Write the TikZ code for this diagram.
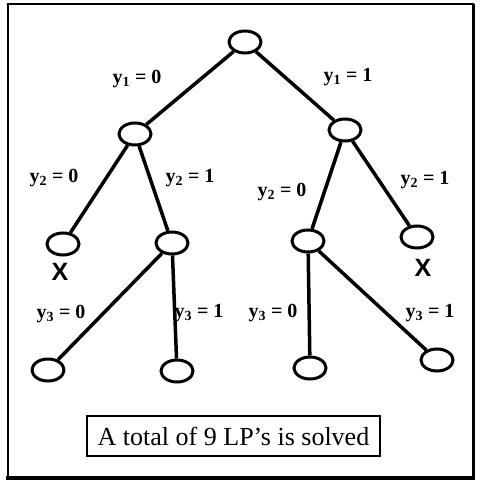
\documentclass[tikz,border=0pt]{standalone}
\usepackage{fontspec}
\setmainfont{Liberation Serif}
\newfontfamily\xfont{Liberation Sans}
\usetikzlibrary{shapes.geometric}
\begin{document}
\begin{tikzpicture}[x=1pt,y=-1pt,
  lp/.style={draw,ellipse,line width=3pt,minimum width=32pt,minimum height=22pt,inner sep=0pt},
  br/.style={line width=3.5pt},
  lab/.style={font=\fontsize{20}{20}\selectfont\bfseries,inner sep=0pt},
  xm/.style={font=\xfont\fontsize{25}{25}\selectfont\bfseries,inner sep=0pt}]
\useasboundingbox (0,0) rectangle (481,486);
% frame
\draw[line width=2pt] (8,4) rectangle (473,477);
\draw[line width=4pt] (6,478) -- (475,478);
\draw[line width=3pt] (473.5,4) -- (473.5,478);
% nodes
\node[lp] (r) at (245,42) {};
\node[lp] (a) at (135,134) {};
\node[lp] (b) at (345,130) {};
\node[lp] (aa) at (63,244) {};
\node[lp] (ab) at (172,243) {};
\node[lp] (ba) at (308,241) {};
\node[lp] (bb) at (417,237) {};
\node[lp] (aba) at (48,370) {};
\node[lp] (abb) at (177,371) {};
\node[lp] (baa) at (310,368) {};
\node[lp] (bab) at (437,360) {};
% edges
\draw[br] (r) -- (a);
\draw[br] (r) -- (b);
\draw[br] (a) -- (aa);
\draw[br] (a) -- (ab);
\draw[br] (b) -- (ba);
\draw[br] (b) -- (bb);
\draw[br] (ab) -- (aba);
\draw[br] (ab) -- (abb);
\draw[br] (ba) -- (baa);
\draw[br] (ba) -- (bab);
% labels
\node[lab] (l1) at (137,79) {y\textsubscript{1} = 0};
\node[lab] (l2) at (348,77) {y\textsubscript{1} = 1};
\node[lab] (l3) at (54,178) {y\textsubscript{2} = 0};
\node[lab] (l4) at (190,178) {y\textsubscript{2} = 1};
\node[lab] (l5) at (282,192) {y\textsubscript{2} = 0};
\node[lab] (l6) at (425,180) {y\textsubscript{2} = 1};
\node[lab] (l7) at (61,314) {y\textsubscript{3} = 0};
\node[lab] (l8) at (199,313) {y\textsubscript{3} = 1};
\node[lab] (l9) at (273,313) {y\textsubscript{3} = 0};
\node[lab] (l10) at (430,313) {y\textsubscript{3} = 1};
% X marks
\node[xm] (x1) at (60,272) {X};
\node[xm] (x2) at (423,268) {X};
% caption
\node[draw,line width=2pt,minimum width=293pt,minimum height=40pt,inner sep=0pt,font=\fontsize{26}{26}\selectfont] (cap) at (233.5,436) {A total of 9 LP's is solved};
\end{tikzpicture}
\end{document}
